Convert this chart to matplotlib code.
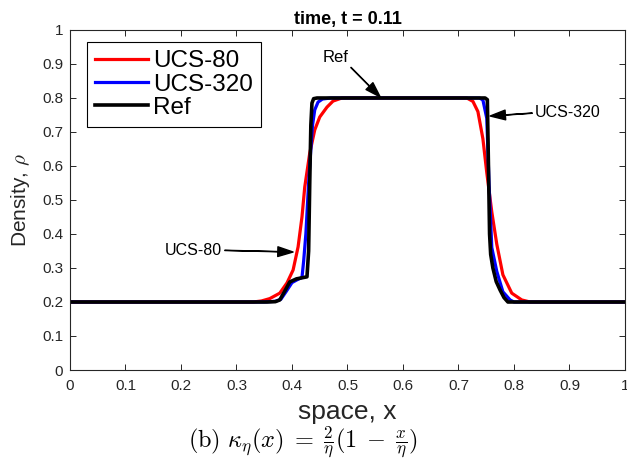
import numpy as np
import matplotlib
matplotlib.use("Agg")
import matplotlib.pyplot as plt

plt.rcParams["font.family"] = ["Liberation Sans", "DejaVu Sans"]
plt.rcParams["mathtext.fontset"] = "cm"

# density profiles at t = 0.11
x_80 = [0.0, 0.33, 0.345, 0.36, 0.378, 0.391, 0.402, 0.411, 0.418, 0.423, 0.432, 0.441,
        0.450, 0.463, 0.474, 0.49, 0.60, 0.715, 0.726, 0.735, 0.744, 0.751, 0.760, 0.769,
        0.780, 0.796, 0.814, 0.829, 1.0]
rho_80 = [0.2, 0.2, 0.203, 0.21, 0.226, 0.256, 0.294, 0.362, 0.45, 0.538, 0.638, 0.706,
          0.744, 0.773, 0.791, 0.8, 0.8, 0.8, 0.79, 0.76, 0.68, 0.58, 0.465, 0.37,
          0.28, 0.226, 0.206, 0.2, 0.2]

x_320 = [0.0, 0.35, 0.37, 0.38, 0.39, 0.40, 0.41, 0.418, 0.421, 0.425, 0.43, 0.434, 0.437,
         0.441, 0.447, 0.455, 0.47, 0.60, 0.738, 0.744, 0.751, 0.755, 0.760, 0.769, 0.780,
         0.793, 0.80, 1.0]
rho_320 = [0.2, 0.2, 0.202, 0.208, 0.232, 0.257, 0.266, 0.272, 0.32, 0.40, 0.55, 0.65, 0.72,
           0.765, 0.788, 0.797, 0.8, 0.8, 0.8, 0.794, 0.74, 0.55, 0.36, 0.29, 0.23,
           0.206, 0.2, 0.2]

x_ref = [0.0, 0.355, 0.37, 0.378, 0.387, 0.396, 0.408, 0.427, 0.430, 0.432, 0.434, 0.436,
         0.439, 0.445, 0.60, 0.748, 0.752, 0.754, 0.756, 0.758, 0.762, 0.768, 0.775, 0.782,
         0.789, 1.0]
rho_ref = [0.2, 0.2, 0.201, 0.206, 0.232, 0.259, 0.268, 0.274, 0.35, 0.55, 0.72, 0.785,
           0.798, 0.8, 0.8, 0.8, 0.795, 0.6, 0.4, 0.34, 0.30, 0.26, 0.235, 0.213,
           0.2, 0.2]

ticks = [0, 0.1, 0.2, 0.3, 0.4, 0.5, 0.6, 0.7, 0.8, 0.9, 1]
tick_labels = ["0", "0.1", "0.2", "0.3", "0.4", "0.5", "0.6", "0.7", "0.8", "0.9", "1"]

fig = plt.figure(figsize=(6.27, 4.65), dpi=100)
ax = fig.add_axes([0.1116, 0.2043, 0.8852, 0.7312])

ax.plot(x_80, rho_80, color="red", lw=2.3, label="UCS-80")
ax.plot(x_320, rho_320, color="blue", lw=2.3, label="UCS-320")
ax.plot(x_ref, rho_ref, color="black", lw=2.6, label="Ref")

ax.set_xlim(0, 1)
ax.set_ylim(0, 1)
ax.set_xticks(ticks)
ax.set_xticklabels(tick_labels)
ax.set_yticks(ticks)
ax.set_yticklabels(tick_labels)
ax.tick_params(direction="in", top=True, right=True, length=4, width=0.7,
               labelsize=11, labelcolor="#262626", color="#262626")
ax.tick_params(axis="x", pad=6.5)
ax.tick_params(axis="y", pad=5)
for s in ax.spines.values():
    s.set_linewidth(0.8)
    s.set_color("#262626")

ax.set_title("time, t = 0.11", fontsize=13, fontweight="bold", pad=4)
ax.set_xlabel("space, x", fontsize=19, color="#262626", labelpad=5)
ax.set_ylabel(r"Density, $\rho$", fontsize=15, color="#262626", labelpad=7,
              family=["Liberation Sans Narrow", "Liberation Sans", "DejaVu Sans"])

arrow = dict(facecolor="black", edgecolor="black", width=0.2, headwidth=7,
             headlength=11, shrink=0)
ax.annotate("Ref", xy=(0.559, 0.803), xytext=(0.478, 0.92), fontsize=12,
            ha="center", va="center", arrowprops=arrow)
ax.annotate("UCS-320", xy=(0.757, 0.747), xytext=(0.838, 0.756), fontsize=11.5,
            ha="left", va="center", arrowprops=arrow)
ax.annotate("UCS-80", xy=(0.402, 0.347), xytext=(0.171, 0.352), fontsize=11.5,
            ha="left", va="center", arrowprops=arrow)

leg = ax.legend(loc="upper left", bbox_to_anchor=(0.030, 0.965), borderaxespad=0,
                fontsize=17.5, handlelength=2.18, handletextpad=0.2, labelspacing=0.05,
                borderpad=0.35, fancybox=False, framealpha=1, edgecolor="black")
leg.get_frame().set_linewidth(0.8)

fig.text(0.483, 0.05,
         r"$\mathrm{(b)}\ \kappa_\eta(x)\;=\;\frac{2}{\eta}(1\;-\;\frac{x}{\eta})$",
         ha="center", va="center", fontsize=17.5)

fig.savefig("out.png", dpi=100)
